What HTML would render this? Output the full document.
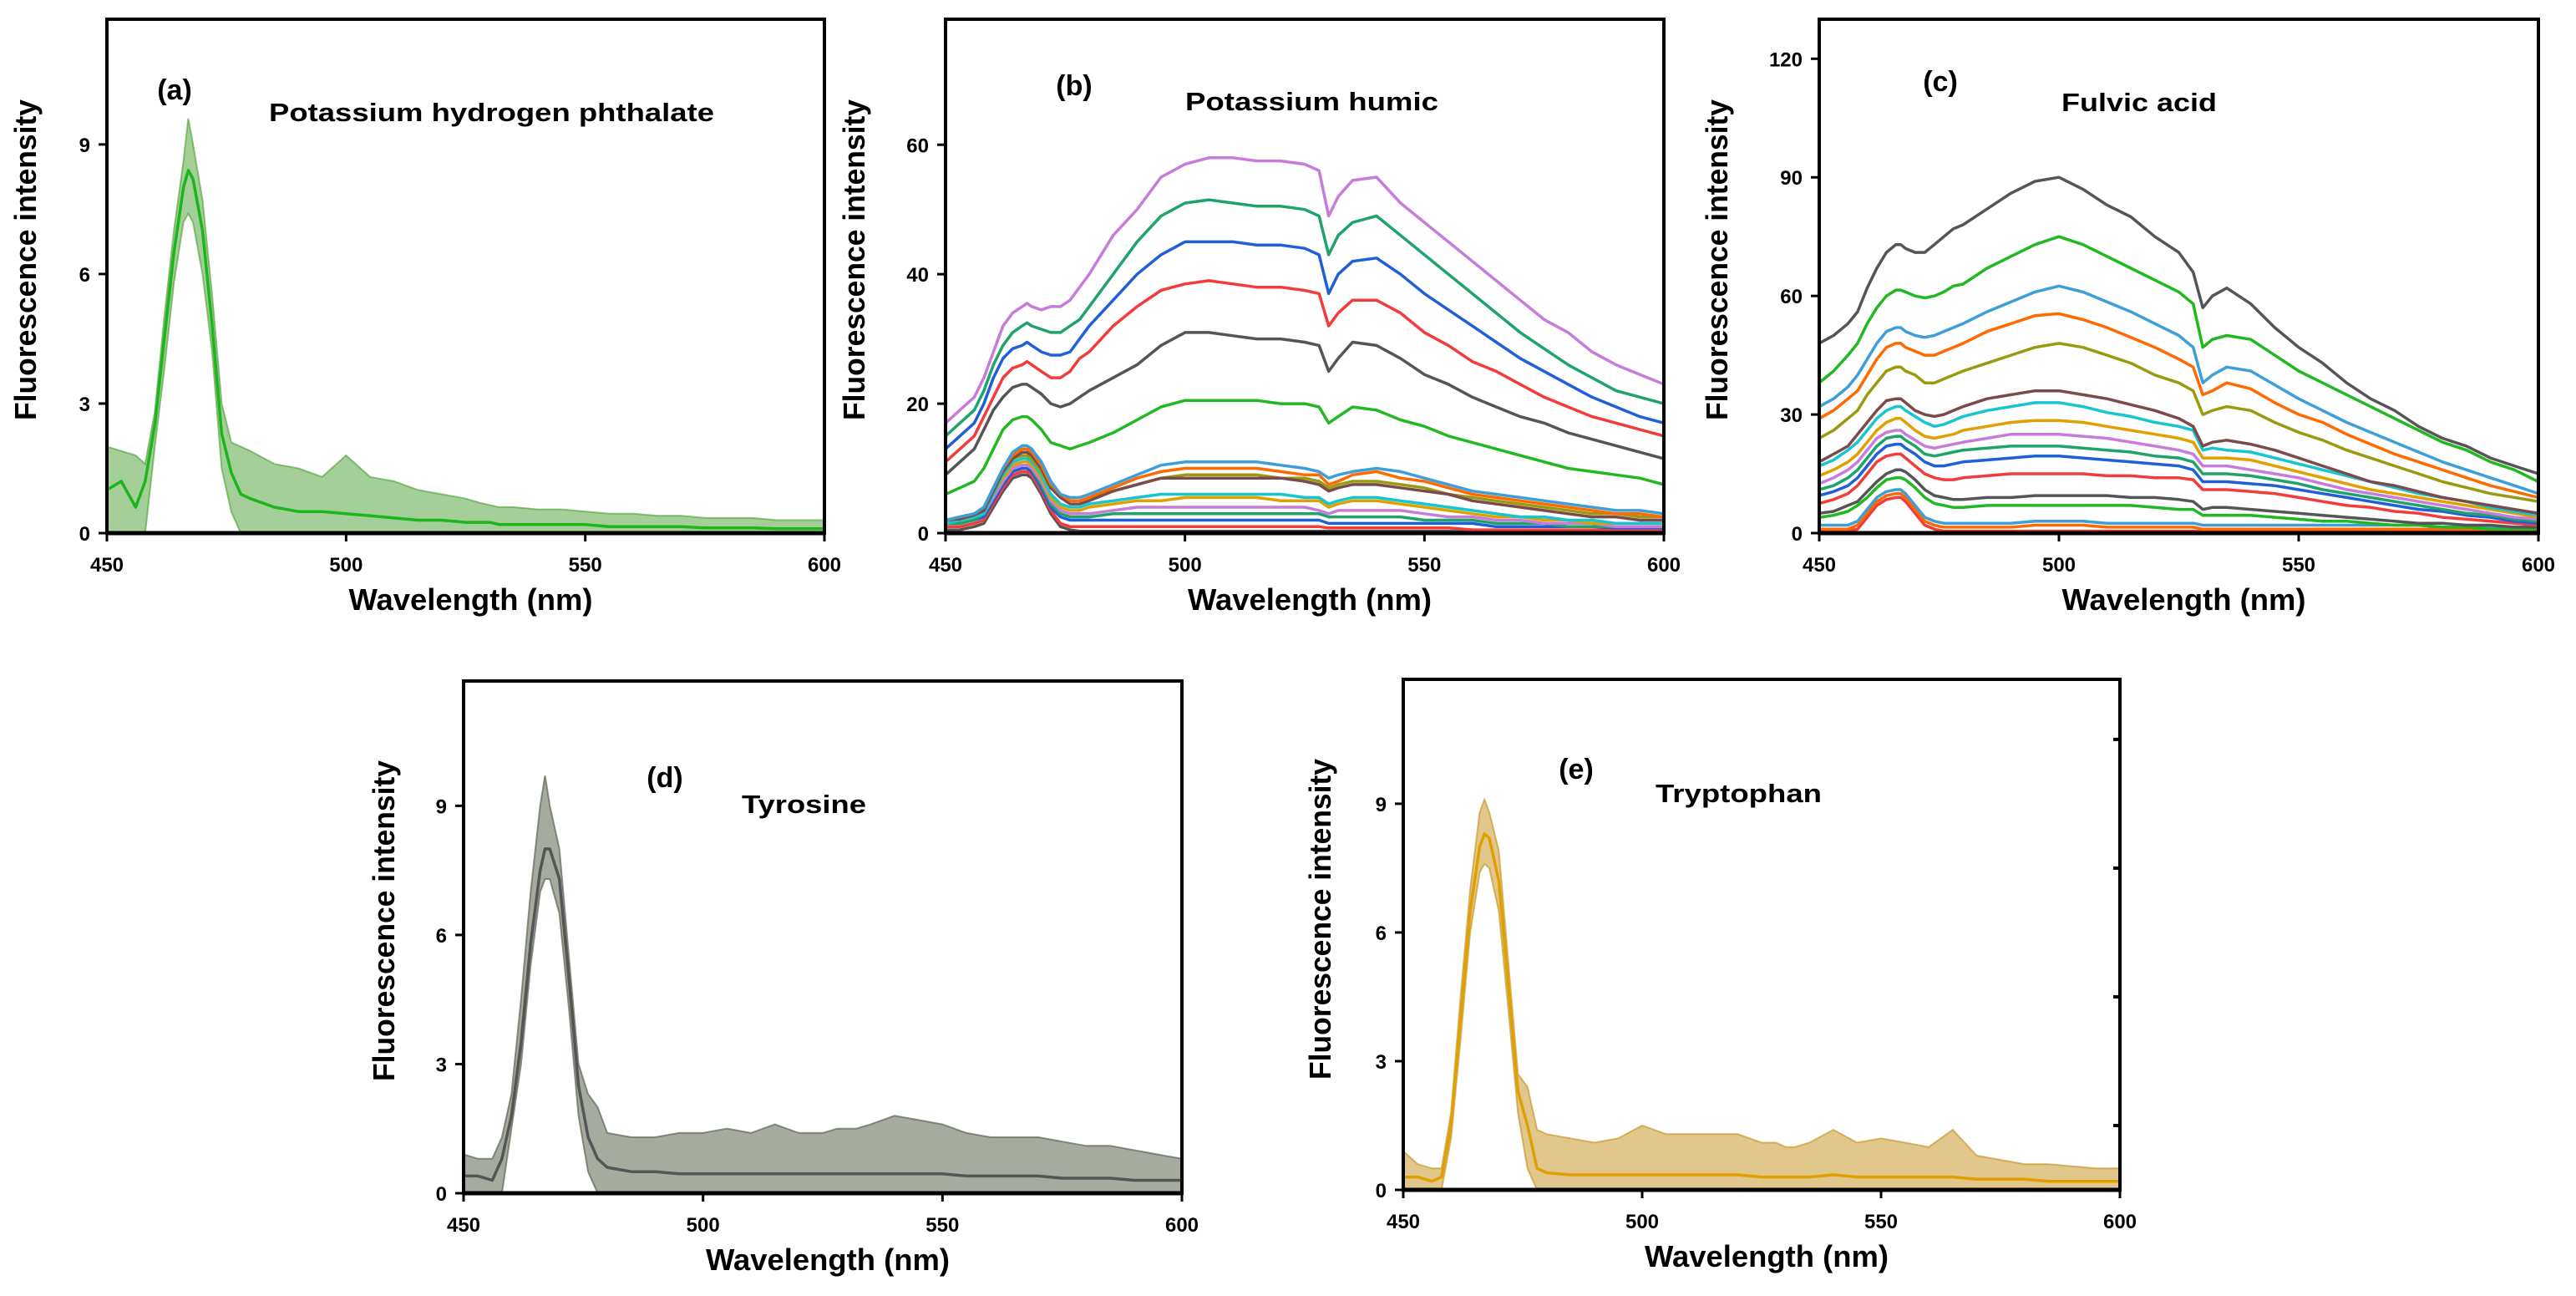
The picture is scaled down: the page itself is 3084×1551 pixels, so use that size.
<!DOCTYPE html>
<html><head><meta charset="utf-8"><style>
html,body{margin:0;padding:0;background:#fff;}
svg{display:block;}
text{font-family:"Liberation Sans",Arial,sans-serif;font-weight:bold;fill:#000;}
</style></head>
<body>
<svg id="fig" width="3084" height="1551" viewBox="0 0 3084 1551" xmlns="http://www.w3.org/2000/svg"></svg>
<script>
// shared wavelength grid (nm)
const wl = [450,453,456,458,460,462,464,466,467,468,470,472,474,476,478,480,485,490,495,500,505,510,515,520,525,528,530,532,535,540,545,550,555,560,565,570,575,580,585,590,595,600];
const xTicks = [450,500,550,600];

// panel a
const aLine = [1.0,1.2,0.6,1.2,2.5,4.5,6.5,8.0,8.4,8.2,7.0,4.8,2.3,1.4,0.9,0.8,0.6,0.5,0.5,0.45,0.4,0.35,0.3,0.3,0.25,0.25,0.25,0.2,0.2,0.2,0.2,0.2,0.15,0.15,0.15,0.15,0.12,0.12,0.12,0.1,0.1,0.1];
const aHi = [2.0,1.9,1.8,1.6,2.8,5,7,8.6,9.6,9,7.7,5.5,3,2.1,2.0,1.9,1.6,1.5,1.3,1.8,1.3,1.2,1.0,0.9,0.8,0.7,0.65,0.6,0.6,0.55,0.55,0.5,0.45,0.45,0.4,0.4,0.35,0.35,0.35,0.3,0.3,0.3];
const aLo = [0,0,0,0,2.0,3.8,5.8,7.2,7.4,7.2,6.0,4.2,1.5,0.5,0,0,0,0,0,0,0,0,0,0,0,0,0,0,0,0,0,0,0,0,0,0,0,0,0,0,0,0];
const aTicks = [0,3,6,9];

// panel b
const bPurple = [17,19,21,24,28,32,34,35,35.5,35,34.5,35,35,36,38,40,46,50,55,57,58,58,57.5,57.5,57,56,49,52,54.5,55,51,48,45,42,39,36,33,31,28,26,24.5,23];
const bTeal = [15,17,19,22,26,29,31,32,32.5,32,31.5,31,31,32,33,35,40,45,49,51,51.5,51,50.5,50.5,50,49,43,46,48,49,46,43,40,37,34,31,28.5,26,24,22,21,20];
const bBlue = [13,15,17,20,24,27,28.5,29,29.5,29,28,27.5,27.5,28,30,32,36,40,43,45,45,45,44.5,44.5,44,43,37,40,42,42.5,40,37,34.5,32,29.5,27,25,23,21,19.5,18,17];
const bRed = [11,13,15,18,21,24,25.5,26,26.5,26,25,24,24,25,27,28,32,35,37.5,38.5,39,38.5,38,38,37.5,37,32,34,36,36,34,31,29,26.5,25,23,21,19.5,18,17,16,15];
const bGray = [9,11,13,16,19,21,22.5,23,23,22.5,21.5,20,19.5,20,21,22,24,26,29,31,31,30.5,30,30,29.5,29,25,27,29.5,29,27,24.5,23,21,19.5,18,17,15.5,14.5,13.5,12.5,11.5];
const bGreen = [6,7,8,10,13,16,17.5,18,18,17.5,16,14,13.5,13,13.5,14,15.5,17.5,19.5,20.5,20.5,20.5,20.5,20,20,19.5,17,18,19.5,19,17.5,16.5,15,14,13,12,11,10,9.5,9,8.5,7.5];
const bL11 = [2,2.5,3,4,7,10,12.5,13.5,13.5,13,11,8,6,5.5,5.5,6,7.5,9,10.5,11,11,11,11,10.5,10,9.5,8.5,9,9.5,10,9.5,8.5,7.5,6.5,6,5.5,5,4.5,4,3.5,3.5,3];
const bL10 = [2,2.5,3,4,7,10,12,13,13,12.5,10.5,7.5,6,5,5,5.5,7,8.5,9.5,10,10,10,10,9.5,9,9,7.5,8,9,9.5,8.5,8,7,6,5.5,5,4.5,4,3.5,3,3,2.5];
const bL9 = [2,2.2,2.8,3.5,6.5,9.5,11.5,12.5,12.5,12,10,7,5.5,4.5,4.5,5,6.5,7.5,8.5,8.5,8.5,8.5,8.5,8.5,8,7.5,6.5,7,7.5,7.5,7,6.5,6,5,4.5,4,3.5,3,2.5,2.5,2,2];
const bL8 = [2,2.2,2.8,3.5,6.5,9.5,11.5,12,12,11.5,9.5,7,5.5,5,5,5.5,6.5,7.5,8.5,9,9,9,9,8.5,8.5,8,7,7.5,8,8,7.5,7,6,5.5,5,4.5,4,3.5,3,3,2.5,2.5];
const bL7 = [1.5,2,2.5,3,6,9,11,11.5,11.5,11,9,6,4.5,4,4,4.5,5,5.5,6,6,6,6,6,6,5.5,5.5,4.5,5,5.5,5.5,5,4.5,4,3.5,3,2.5,2.5,2,2,1.5,1.5,1.5];
const bL6 = [1.5,2,2.5,3,6,8.5,10.5,11,11,10.5,8.5,5.5,4,3.5,3.5,4,4.5,5,5,5.5,5.5,5.5,5.5,5,5,5,4,4.5,5,5,4.5,4,3.5,3,2.5,2.5,2,2,1.5,1.5,1.5,1.5];
const bL5 = [1.5,2,2.5,3,5.5,8,10,10.5,10.5,10,8,5,3.5,3,3,3,3.5,4,4,4,4,4,4,4,4,3.5,3,3.5,3.5,3.5,3.5,3,2.5,2.5,2,2,1.5,1.5,1.5,1,1,1];
const bL4 = [1.5,1.5,2,3,5.5,8,10,10.5,10.5,10,7.5,4.5,3,2.5,2.5,2.5,3,3,3,3,3,3,3,3,3,3,2.5,2.5,2.5,2.5,2.5,2,2,2,1.5,1.5,1.5,1,1,1,1,1];
const bL3 = [1.5,1.5,2,2.5,5,7.5,9.5,10,10,9.5,7,4,2.5,2,2,2,2,2,2,2,2,2,2,2,2,2,1.5,1.5,1.5,1.5,1.5,1.5,1.5,1.5,1,1,1,1,1,0.8,0.8,0.8];
const bL2 = [1,1,1.5,2,4.5,7,9,9.5,9.5,9,6.5,3.5,1.5,1,1,1,1,1,1,1,1,1,1,1,1,1,0.8,0.8,0.8,0.8,0.8,0.8,0.8,0.5,0.5,0.5,0.5,0.5,0.5,0.5,0.5,0.5];
const bL1 = [0.5,0.5,1,1.5,4,6.5,8.5,9,9,8.5,6,3,1,0.5,0.3,0.3,0.3,0.3,0.3,0.3,0.3,0.3,0.3,0.3,0.3,0.3,0.3,0.3,0.3,0.3,0.3,0.3,0.3,0.2,0.2,0.2,0.2,0.2,0.2,0.2,0.2,0.2];
const bTicks = [0,20,40,60];

// panel c
const cGray = [48,50,53,56,62,67,71,73,73,72,71,71,73,75,77,78,82,86,89,90,87,83,80,75,71,66,57,60,62,58,52,47,43,38,34,31,27,24,22,19,17,15];
const cGreen = [38,41,45,48,53,57,60,61.5,61.5,61,60,59.5,60,61,62.5,63,67,70,73,75,73,70,67,64,61,58,47,49,50,49,45,41,38,35,32,29,26,23,21,18,16,13];
const cSky = [32,34,37,40,44,48,51,52,52,51,50,49.5,50,51,52,53,56,58.5,61,62.5,61,58.5,56,53,50,47,38,40,42,41,37.5,34,31,28,25.5,23,20.5,18,16,14,12,10];
const cOrange = [29,31,34,36,40,44,47,48,48,47,46,45,45,46,47,48,51,53,55,55.5,54,52,49.5,47,44,42,35,36,38,36.5,33,30,28,25,22.5,20,18,16,14,12,10.5,9];
const cOlive = [24,26,29,31,35,38,41,42,42,41,40,38,38,39,40,41,43,45,47,48,47,45,43,40,38,36,30,31,32,31,28,25.5,23.5,21,19,17,15,13,11.5,10,9,8];
const cBrown = [18,20,22,25,28,31,33.5,34,34,33,31,30,29.5,30,31,32,34,35,36,36,35,34,32.5,31,29,27,22,23,23.5,22.5,21,19,17,15,13,12,10.5,9,8,7,6,5];
const cCyan = [17,18.5,21,23,26,29,31,32,32,31,29.5,28,27,27.5,28.5,29.5,31,32,33,33,32,30.5,29.5,28,27,26,21,21.5,21,20.5,19,17.5,16,14.5,13,11.5,10,9,8,6.5,5.5,4.5];
const cGold = [14.5,16,18,20,23,26,28,29,29,28,26,24.5,24,24.5,25,26,27,28,28.5,28.5,28,27,26,25,24,23,19,19,19,18.5,17,15.5,14,12.5,11,10,9,8,7,6,5,4];
const cPurple = [12.5,14,16,18,21,24,25.5,26,26,25,23.5,22,21.5,22,22.5,23,24,25,25,25,24.5,24,23,22,21,20,17,17,17,16,15,14,12.5,11,10,9,8,7,6,5,4,3.5];
const cTeal = [11,12,14,16,19,22,24,24.5,24.5,23.5,22,20,19.5,20,20.5,21,21.5,22,22,22,21.5,21,20.5,19.5,19,18,15,15,15,14.5,13.5,12.5,11,10,9,8,7,6,5,4.5,3.5,3];
const cBlue = [9.5,10.5,12,14,17,20,22,22.5,22.5,21.5,20,18,17,17,17.5,18,18.5,19,19.5,19.5,19,18.5,18,17.5,17,16,13,13,13,12.5,12,11,10,9,8,7,6,5.5,4.5,4,3,2.5];
const cRed = [7.5,8.5,10,12,15,18,19.5,20,20,19,17,15,14,13.5,13.5,14,14.5,15,15,15,15,14.5,14.5,14,14,13.5,11,11,11,10.5,10,9,8,7,6.5,5.5,5,4,3.5,3,2.5,2];
const cGray2 = [5,5.5,7,8,10.5,13,15,16,16,15.5,13.5,11,9.5,9,8.5,8.5,9,9,9.5,9.5,9.5,9.5,9,9,8.5,8,6,6.5,6.5,6,5.5,5,4.5,4,3.5,3,2.5,2.5,2,2,1.5,1.5];
const cGreen2 = [4,4.5,5.5,7,9,11.5,13.5,14,14,13.5,11.5,9,7.5,7,6.5,6.5,7,7,7,7,7,7,7,6.5,6,6,4.5,4.5,4.5,4.5,4,3.5,3,3,2.5,2,2,1.5,1.5,1,1,1];
const cLow1 = [2,2,2,3,6,9,10.5,11,11,10,7,4,3,2.5,2.5,2.5,2.5,2.5,3,3,3,2.5,2.5,2.5,2.5,2.5,2,2,2,2,2,2,2,2,2,2,2,1.5,1.5,1.5,1.5,1.5];
const cLow2 = [1,1,1,2,5,8,9.5,10,10,9,6,3,2,1.5,1.5,1.5,1.5,1.5,2,2,2,1.5,1.5,1.5,1.5,1.5,1,1,1,1,1,1,1,1,1,1,1,1,1,1,1,1];
const cLow3 = [0.5,0.5,0.5,1,4,7,8.5,9,9,8,5,2,1,0.5,0.5,0.5,0.5,0.5,0.5,0.5,0.5,0.5,0.5,0.5,0.5,0.5,0.5,0.5,0.5,0.5,0.5,0.5,0.5,0.5,0.5,0.5,0.5,0.5,0.5,0.5,0.5,0.5];
const cTicks = [0,30,60,90,120];

// panel d
const dLine = [0.4,0.4,0.3,0.8,1.8,3.5,5.8,7.5,8.0,8.0,7.3,5.0,2.5,1.3,0.8,0.6,0.5,0.5,0.45,0.45,0.45,0.45,0.45,0.45,0.45,0.45,0.45,0.45,0.45,0.45,0.45,0.45,0.4,0.4,0.4,0.4,0.35,0.35,0.35,0.3,0.3,0.3];
const dHi = [0.9,0.8,0.8,1.3,2.3,4.5,7,9,9.7,9,8,5.5,3,2.3,2.0,1.4,1.3,1.3,1.4,1.4,1.5,1.4,1.6,1.4,1.4,1.5,1.5,1.5,1.6,1.8,1.7,1.6,1.4,1.3,1.3,1.3,1.2,1.1,1.1,1.0,0.9,0.8];
const dLo = [0,0,0,0,1.5,3,5.3,7,7.3,7.3,6.5,4.3,1.8,0.5,0,0,0,0,0,0,0,0,0,0,0,0,0,0,0,0,0,0,0,0,0,0,0,0,0,0,0,0];
const dTicks = [0,3,6,9];

// panel e
const eLine = [0.3,0.3,0.2,0.3,1.5,4,6.5,8.0,8.3,8.2,7.2,4.8,2.3,1.5,0.5,0.4,0.35,0.35,0.35,0.35,0.35,0.35,0.35,0.35,0.3,0.3,0.3,0.3,0.3,0.35,0.3,0.3,0.3,0.3,0.3,0.25,0.25,0.25,0.2,0.2,0.2,0.2];
const eHi = [0.9,0.6,0.5,0.5,1.8,4.5,7,8.8,9.1,8.8,7.9,5.3,2.7,2.4,1.4,1.3,1.2,1.1,1.2,1.5,1.3,1.3,1.3,1.3,1.1,1.1,1.0,1.0,1.1,1.4,1.1,1.2,1.1,1.0,1.4,0.8,0.7,0.6,0.6,0.55,0.5,0.5];
const eLo = [0,0,0,0,1.2,3.5,6,7.4,7.6,7.5,6.5,4.2,1.8,0.5,0,0,0,0,0,0,0,0,0,0,0,0,0,0,0,0,0,0,0,0,0,0,0,0,0,0,0,0];
const eTicks = [0,3,6,9];

const NS = "http://www.w3.org/2000/svg";
const svg = document.getElementById('fig');
function mk(tag, attrs, parent) {
  const el = document.createElementNS(NS, tag);
  for (const k in attrs) el.setAttribute(k, attrs[k]);
  (parent || svg).appendChild(el);
  return el;
}

function panel(cfg) {
  const g = mk('g', {});
  
  
  const sx = v => cfg.x0 + (v - 450) / 150 * (cfg.x1 - cfg.x0);
  const sy = v => cfg.y1 - v / cfg.ymax * (cfg.y1 - cfg.y0);
  const clipId = 'clip-' + cfg.id;
  const cp = mk('clipPath', {id: clipId}, g);
  mk('rect', {x: cfg.x0, y: cfg.y0, width: cfg.x1 - cfg.x0, height: cfg.y1 - cfg.y0}, cp);
  const plot = mk('g', {'clip-path': 'url(#' + clipId + ')'}, g);
  
  
  (cfg.bands || []).forEach(b => {
    let d = '';
    wl.forEach((w, i) => { d += (i ? 'L' : 'M') + sx(w).toFixed(1) + ' ' + sy(b.hi[i]).toFixed(1); });
    for (let i = wl.length - 1; i >= 0; i--) d += 'L' + sx(wl[i]).toFixed(1) + ' ' + sy(b.lo[i]).toFixed(1);
    const p = mk('path', {d: d + 'Z', fill: b.color, 'fill-opacity': 0.55, stroke: b.color, 'stroke-opacity': 0.7, 'stroke-width': 2}, plot);
    
    
  });
  cfg.series.forEach((s, k) => {
    const pts = wl.map((w, i) => sx(w).toFixed(1) + ',' + sy(s.v[i]).toFixed(1)).join(' ');
    const pl = mk('polyline', {points: pts, fill: 'none', stroke: s.c, 'stroke-width': 3.5, 'stroke-linejoin': 'round'}, plot);
    
    
  });
  mk('line', {x1: cfg.x0, x2: cfg.x1, y1: cfg.y1, y2: cfg.y1, stroke: '#000', 'stroke-width': 5}, g);
  const fr = mk('rect', {x: cfg.x0, y: cfg.y0, width: cfg.x1 - cfg.x0, height: cfg.y1 - cfg.y0, fill: 'none', stroke: '#000', 'stroke-width': 4}, g);
  
  
  xTicks.forEach(t => {
    mk('line', {x1: sx(t), x2: sx(t), y1: cfg.y1, y2: cfg.y1 + 10, stroke: '#000', 'stroke-width': 3}, g);
    const tx = mk('text', {x: sx(t), y: cfg.y1 + 46, 'text-anchor': 'middle', 'font-size': 24}, g);
    
    
    tx.textContent = t;
  });
  cfg.yticks.forEach(t => {
    mk('line', {x1: cfg.x0 - 10, x2: cfg.x0, y1: sy(t), y2: sy(t), stroke: '#000', 'stroke-width': 3}, g);
    const ty = mk('text', {x: cfg.x0 - 20, y: sy(t) + 9, 'text-anchor': 'end', 'font-size': 24}, g);
    
    
    ty.textContent = t;
  });
  (cfg.rticks || []).forEach(t => {
    mk('line', {x1: cfg.x1 - 8, x2: cfg.x1, y1: sy(t), y2: sy(t), stroke: '#000', 'stroke-width': 4}, g);
  });
  const xt = mk('text', {x: (cfg.x0 + cfg.x1) / 2 + 6, y: cfg.y1 + 92, 'text-anchor': 'middle', 'font-size': 36, textLength: 292, lengthAdjust: 'spacingAndGlyphs'}, g);
  
  
  xt.textContent = 'Wavelength (nm)';
  const yt = mk('text', {x: 0, y: 0, 'text-anchor': 'middle', 'font-size': 36, textLength: 384, lengthAdjust: 'spacingAndGlyphs', transform: 'translate(' + (cfg.ytx + 13) + ',' + cfg.yty + ') rotate(-90)'}, g);
  
  
  yt.textContent = 'Fluorescence intensity';
  const lb = mk('text', {x: cfg.lab[0], y: cfg.lab[1] + 12, 'text-anchor': 'middle', 'font-size': 34}, g);
  
  
  lb.textContent = '(' + cfg.id + ')';
  const tt = mk('text', {x: cfg.tit[0], y: cfg.tit[2] + 11, 'font-size': 31, textLength: cfg.tit[1] - cfg.tit[0], lengthAdjust: 'spacingAndGlyphs'}, g);
  
  
  tt.textContent = cfg.title;
}

panel({id: 'a', x0: 128, x1: 987, y0: 23, y1: 638, ymax: 11.9, yticks: aTicks, ytx: 30, yty: 311,
  lab: [209, 107], tit: [322, 855, 134], title: 'Potassium hydrogen phthalate',
  bands: [{hi: aHi, lo: aLo, color: '#5aa845'}],
  series: [{v: aLine, c: '#1cb51c'}]});
panel({id: 'b', x0: 1132, x1: 1992, y0: 23, y1: 638, ymax: 79.4, yticks: bTicks, ytx: 1022, yty: 311,
  lab: [1286, 102], tit: [1419, 1722, 121], title: 'Potassium humic',
  series: [
    {v: bL1, c: '#555555'}, {v: bL2, c: '#f23c3c'}, {v: bL3, c: '#1f5fd8'}, {v: bL4, c: '#1fa36b'},
    {v: bL5, c: '#c77cdb'}, {v: bL6, c: '#e0a000'}, {v: bL7, c: '#17c5d0'}, {v: bL8, c: '#9a9a10'},
    {v: bL9, c: '#7b4a4a'}, {v: bL10, c: '#ff6a00'}, {v: bL11, c: '#3e9fd8'},
    {v: bGreen, c: '#22b822'}, {v: bGray, c: '#555555'}, {v: bRed, c: '#f23c3c'},
    {v: bBlue, c: '#1f5fd8'}, {v: bTeal, c: '#1fa36b'}, {v: bPurple, c: '#c77cdb'}]});
panel({id: 'c', x0: 2178, x1: 3039, y0: 23, y1: 638, ymax: 130, yticks: cTicks, ytx: 2055, yty: 311,
  lab: [2323, 97], tit: [2468, 2654, 122], title: 'Fulvic acid',
  series: [
    {v: cLow3, c: '#f23c3c'}, {v: cLow2, c: '#ff6a00'}, {v: cLow1, c: '#3e9fd8'},
    {v: cGreen2, c: '#22b822'}, {v: cGray2, c: '#555555'}, {v: cRed, c: '#f23c3c'}, {v: cBlue, c: '#1f5fd8'},
    {v: cTeal, c: '#1fa36b'}, {v: cPurple, c: '#c77cdb'}, {v: cGold, c: '#e0a000'}, {v: cCyan, c: '#17c5d0'},
    {v: cBrown, c: '#7b4a4a'}, {v: cOlive, c: '#9a9a10'}, {v: cOrange, c: '#ff6a00'}, {v: cSky, c: '#3e9fd8'},
    {v: cGreen, c: '#22b822'}, {v: cGray, c: '#555555'}]});
panel({id: 'd', x0: 555, x1: 1415, y0: 815, y1: 1428, ymax: 11.9, yticks: dTicks, ytx: 459, yty: 1102,
  lab: [796, 930], tit: [888, 1037, 962], title: 'Tyrosine',
  bands: [{hi: dHi, lo: dLo, color: '#5d6652'}],
  series: [{v: dLine, c: '#555555'}]});
panel({id: 'e', x0: 1680, x1: 2538, y0: 813, y1: 1424, ymax: 11.9, yticks: eTicks, rticks: [1.5, 4.5, 7.5, 10.5], ytx: 1580, yty: 1100,
  lab: [1887, 920], tit: [1982, 2181, 949], title: 'Tryptophan',
  bands: [{hi: eHi, lo: eLo, color: '#c9992e'}],
  series: [{v: eLine, c: '#e0a000'}]});
</script>
</body></html>
